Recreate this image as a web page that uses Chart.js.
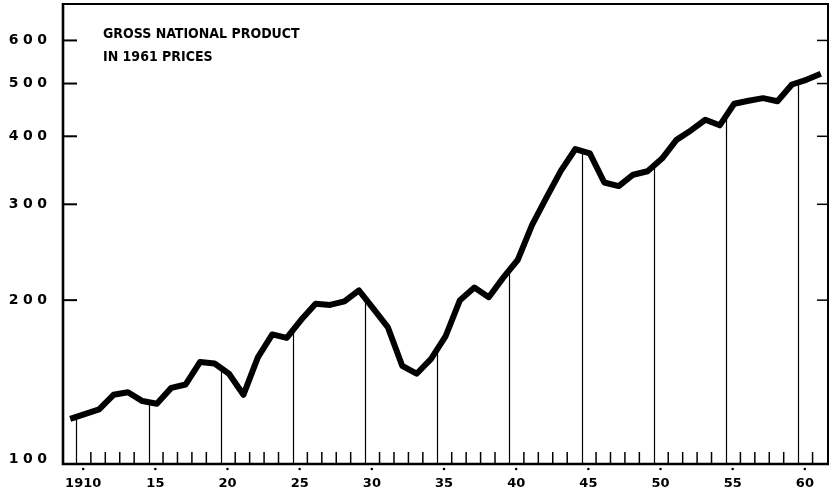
<!DOCTYPE html>
<html><head><meta charset="utf-8">
<script src="https://cdn.jsdelivr.net/npm/chart.js@4.4.1/dist/chart.umd.min.js"></script>
<style>html,body{margin:0;padding:0;background:#fff}#wrap{width:838px;height:495px}</style>
</head><body><div id="wrap"><canvas id="c" width="838" height="495"></canvas></div>
<script>
// ---- data ----
const years = [1909,1910,1911,1912,1913,1914,1915,1916,1917,1918,1919,1920,1921,1922,1923,1924,1925,1926,1927,1928,1929,1930,1931,1932,1933,1934,1935,1936,1937,1938,1939,1940,1941,1942,1943,1944,1945,1946,1947,1948,1949,1950,1951,1952,1953,1954,1955,1956,1957,1958,1959,1960,1961];
const gnp = [121,123.5,126,134,135.5,130.5,129,138,140,154,153,146.5,134,157,173,170.5,184,197,196,199,208.5,193,178.5,151.5,146.5,156,171.5,200,211,202.5,220,237,275,309,346,379,372,329,324,340,345,364,394,410,429,419,459,465,470,464,498,508,521];
const yTickValues = [100,200,300,400,500,600];
const xLabelYears = [1910,1915,1920,1925,1930,1935,1940,1945,1950,1955,1960];
const xTickLabels = ['1910','15','20','25','30','35','40','45','50','55','60'];
const dropYears = [1910,1915,1920,1925,1930,1935,1940,1945,1950,1955,1960];
const titleLines = ['GROSS NATIONAL PRODUCT','IN 1961 PRICES'];

const minorTickYears = years.filter(y => y >= 1910 && dropYears.indexOf(y) < 0);

function valueAt(t){
  // log-linear interpolation of the series at year position t (points sit mid-year)
  for (let i = 0; i < years.length - 1; i++){
    const a = years[i] + 0.5, b = years[i+1] + 0.5;
    if (t >= a && t <= b){
      const f = (t - a) / (b - a);
      return Math.exp(Math.log(gnp[i]) * (1 - f) + Math.log(gnp[i+1]) * f);
    }
  }
  return gnp[0];
}

const decor = {
  id: 'decor',
  beforeDraw(chart){
    const s = chart.scales.y;
    if (s && !s._lsPatched){
      const orig = s.drawLabels;
      s.drawLabels = function(a){
        const ctx = this.ctx; ctx.save(); ctx.letterSpacing = '4.5px'; orig.call(this, a); ctx.restore();
      };
      s._lsPatched = true;
    }
  },
  beforeDatasetsDraw(chart){
    const {ctx, chartArea: ca, scales: {x, y}} = chart;
    ctx.save();
    ctx.strokeStyle = '#000';
    // drop lines
    ctx.lineWidth = 1.2;
    dropYears.forEach(yr => {
      const px = Math.round(x.getPixelForValue(yr)) - 0.5;
      ctx.beginPath();
      ctx.moveTo(px, ca.bottom);
      ctx.lineTo(px, y.getPixelForValue(valueAt(yr)));
      ctx.stroke();
    });
    // minor year ticks
    ctx.lineWidth = 1.5;
    minorTickYears.forEach(yr => {
      const px = x.getPixelForValue(yr) - 1;
      ctx.beginPath(); ctx.moveTo(px, ca.bottom); ctx.lineTo(px, ca.bottom - 12); ctx.stroke();
    });
    // y ticks (inside, both sides)
    yTickValues.forEach(v => {
      if (v === yTickValues[0]) return;
      const py = y.getPixelForValue(v);
      ctx.lineWidth = 2;
      ctx.beginPath(); ctx.moveTo(ca.left, py); ctx.lineTo(ca.left + 14, py); ctx.stroke();
      ctx.lineWidth = 1.5;
      ctx.beginPath(); ctx.moveTo(ca.right, py); ctx.lineTo(ca.right - 11, py); ctx.stroke();
    });
    // frame
    ctx.lineWidth = 2;
    ctx.beginPath();
    ctx.moveTo(ca.left, ca.top); ctx.lineTo(ca.right, ca.top); ctx.lineTo(ca.right, ca.bottom);
    ctx.stroke();
    ctx.lineWidth = 2.6;
    ctx.beginPath();
    ctx.moveTo(ca.left, ca.top - 1); ctx.lineTo(ca.left, ca.bottom); ctx.lineTo(ca.right + 1, ca.bottom);
    ctx.stroke();
    // small dots above the year labels
    ctx.fillStyle = '#000';
    xLabelYears.forEach(yr => {
      const px = x.getPixelForValue(yr + 0.5) - 1.5;
      ctx.beginPath(); ctx.arc(px, ca.bottom + 5, 1.3, 0, Math.PI * 2); ctx.fill();
    });
    // title
    ctx.font = 'bold 14px "DejaVu Sans Condensed", "DejaVu Sans", sans-serif';
    ctx.textBaseline = 'alphabetic';
    ctx.textAlign = 'left';
    ctx.fillText(titleLines[0], 103, 38);
    ctx.fillText(titleLines[1], 103, 61);
    ctx.restore();
  }
};

new Chart(document.getElementById('c'), {
  type: 'line',
  data: {
    datasets: [{
      data: years.map((yr, i) => ({x: yr + 0.5, y: gnp[i]})),
      borderColor: '#000',
      borderWidth: 6,
      pointRadius: 0,
      tension: 0,
      borderJoinStyle: 'round',
      borderCapStyle: 'butt',
      fill: false
    }]
  },
  options: {
    responsive: false,
    animation: false,
    devicePixelRatio: 1,
    layout: {padding: {top: 4, right: 10, left: 0, bottom: 0}},
    plugins: {legend: {display: false}, tooltip: {enabled: false}, title: {display: false}},
    scales: {
      x: {
        type: 'linear', min: 1909, max: 1962,
        grid: {display: false, drawTicks: false},
        border: {display: false},
        ticks: {
          color: '#000', padding: 12, maxRotation: 0, autoSkip: false,
          font: {family: '"DejaVu Sans", sans-serif', size: 13, weight: 'bold'},
          callback: (v, i) => xTickLabels[i]
        },
        afterBuildTicks: s => { s.ticks = xLabelYears.map(yr => ({value: yr + 0.5 - 0.1})); },
        afterFit: s => { s.height = 31; s.paddingLeft = 0; s.paddingRight = 0; }
      },
      y: {
        type: 'logarithmic', min: 100, max: 700,
        grid: {display: false, drawTicks: false},
        border: {display: false},
        ticks: {
          color: '#000', padding: 11.5, autoSkip: false,
          font: {family: '"DejaVu Sans", sans-serif', size: 14, weight: 'bold', lineHeight: '9px'},
          callback: (v, i) => i === 0 ? [String(yTickValues[i]), ''] : String(yTickValues[i])
        },
        afterBuildTicks: s => { s.ticks = yTickValues.map(v => ({value: v})); },
        afterFit: s => { s.width = 63; s.paddingTop = 0; s.paddingBottom = 0; }
      }
    }
  },
  plugins: [decor]
});
</script></body></html>
